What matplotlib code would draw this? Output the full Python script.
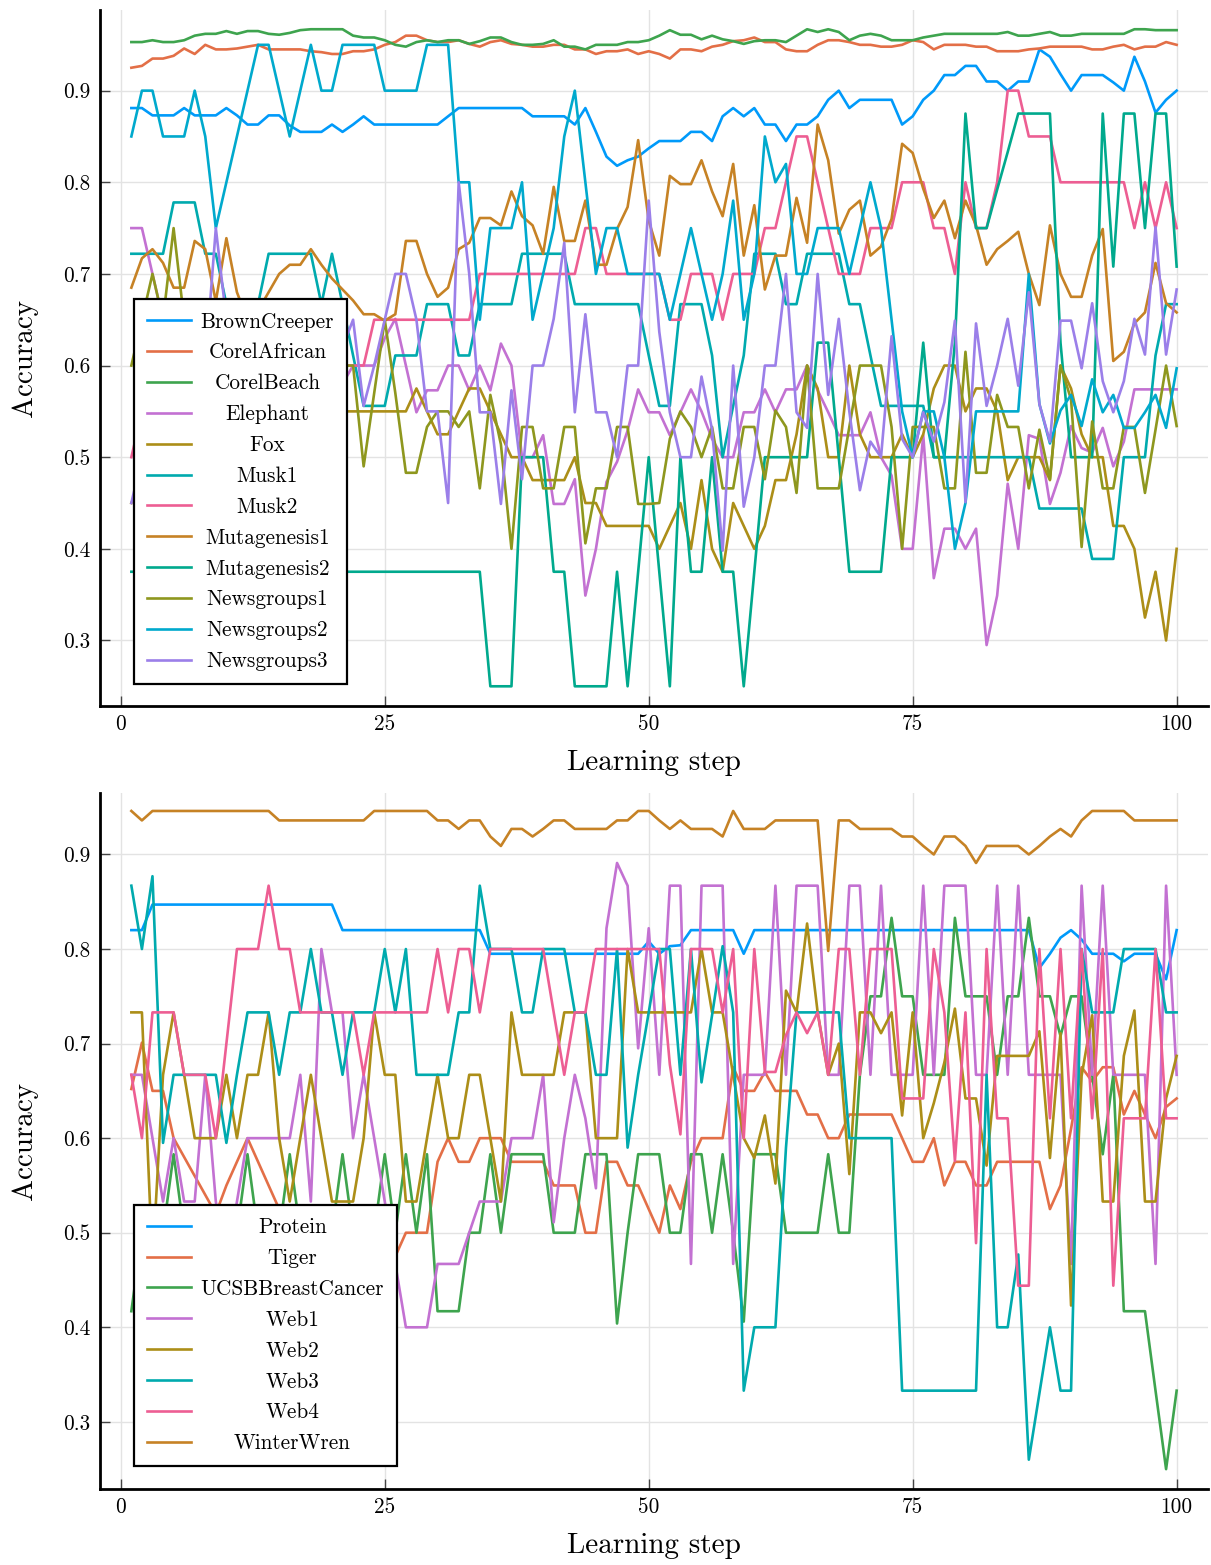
import matplotlib
matplotlib.use('Agg')
import matplotlib.pyplot as plt

plt.rcParams['font.family'] = ['cmr10', 'DejaVu Serif']
plt.rcParams['axes.formatter.use_mathtext'] = True
plt.rcParams['axes.unicode_minus'] = False

steps = list(range(1, 101))
x_ticks = [0, 25, 50, 75, 100]
y_ticks = [0.3, 0.4, 0.5, 0.6, 0.7, 0.8, 0.9]
y_tick_labels = ['0.3', '0.4', '0.5', '0.6', '0.7', '0.8', '0.9']
palette = ['#009AFA', '#E36F47', '#3EA44E', '#C371D2', '#AC8E18', '#00AAAE',
           '#ED5E93', '#C68225', '#00A98D', '#8E971E', '#00A9CD', '#9B7FE9']

# ---------------- top panel data ----------------
brown_creeper = [0.881,0.881,0.873,0.873,0.873,0.881,0.873,0.873,0.873,0.881,0.873,0.863,0.863,0.873,0.873,
                 0.862,0.855,0.855,0.855,0.863,0.855,0.863,0.872,0.863,0.863,0.863,0.863,0.863,0.863,0.863,0.872,0.881,0.881,
                 0.881,0.881,0.881,0.881,0.881,0.872,0.872,0.872,0.872,0.863,0.881,0.855,0.828,0.818,0.824,0.828,0.837,
                 0.845,0.845,0.845,0.855,0.855,0.845,0.872,0.881,0.872,0.881,0.863,0.863,0.845,0.863,0.863,0.872,0.890,0.900,
                 0.881,0.890,0.890,0.890,0.890,0.863,0.872,0.890,0.900,0.917,0.917,0.927,0.927,0.910,0.910,0.900,0.910,0.910,
                 0.945,0.937,0.918,0.900,0.917,0.917,0.917,0.909,0.900,0.937,0.910,0.876,0.890,0.900]
corel_african = [0.925,0.927,0.935,0.935,0.938,0.946,0.940,0.950,0.945,0.945,0.946,0.948,0.950,0.945,0.945,
                 0.945,0.945,0.943,0.942,0.940,0.940,0.943,0.943,0.945,0.950,0.953,0.960,0.960,0.955,0.953,0.953,0.955,0.951,
                 0.948,0.953,0.955,0.951,0.950,0.948,0.948,0.950,0.950,0.945,0.945,0.940,0.943,0.943,0.945,0.940,0.943,
                 0.940,0.935,0.945,0.945,0.943,0.948,0.950,0.954,0.955,0.958,0.953,0.953,0.945,0.943,0.943,0.950,0.955,0.955,
                 0.953,0.950,0.950,0.948,0.948,0.950,0.955,0.953,0.945,0.950,0.950,0.950,0.948,0.948,0.943,0.943,0.943,0.945,
                 0.946,0.948,0.948,0.948,0.948,0.945,0.945,0.948,0.950,0.945,0.948,0.948,0.953,0.950]
corel_beach = [0.953,0.953,0.955,0.953,0.953,0.955,0.960,0.962,0.962,0.965,0.962,0.965,0.965,0.962,0.961,
               0.963,0.966,0.967,0.967,0.967,0.967,0.960,0.958,0.958,0.955,0.950,0.948,0.953,0.955,0.953,0.955,0.955,0.951,
               0.954,0.958,0.958,0.953,0.950,0.950,0.951,0.955,0.948,0.948,0.945,0.950,0.950,0.950,0.953,0.953,0.955,
               0.960,0.966,0.961,0.961,0.956,0.960,0.956,0.954,0.951,0.954,0.955,0.955,0.953,0.960,0.967,0.964,0.967,0.964,
               0.955,0.960,0.962,0.960,0.955,0.955,0.955,0.958,0.960,0.962,0.962,0.962,0.962,0.962,0.962,0.964,0.960,0.960,
               0.962,0.964,0.960,0.960,0.962,0.962,0.962,0.962,0.962,0.967,0.967,0.966,0.966,0.966]
elephant = [0.75,0.75,0.70,0.65,0.62,0.60,0.60,0.65,0.62,0.60,0.55,0.60,0.58,0.60,0.62,0.60,0.58,0.60,0.62,0.60,0.58,
            0.600,0.600,0.600,0.630,0.651,0.600,0.549,0.573,0.573,0.600,0.600,0.573,
            0.600,0.573,0.624,0.600,0.500,0.500,0.524,0.449,0.449,0.476,0.349,0.400,0.473,0.495,0.529,0.574,0.549,
            0.549,0.524,0.549,0.574,0.550,0.520,0.500,0.500,0.549,0.549,0.574,0.549,0.574,0.574,0.600,0.573,0.549,0.524,
            0.524,0.524,0.549,0.500,0.480,0.400,0.400,0.524,0.368,0.422,0.422,0.400,0.422,0.295,0.349,0.471,0.400,0.524,
            0.520,0.449,0.483,0.534,0.510,0.505,0.532,0.490,0.517,0.574,0.574,0.574,0.574,0.574]
fox = [0.45,0.475,0.5,0.525,0.5,0.525,0.55,0.525,0.55,0.575,0.55,0.525,0.55,0.525,0.55,0.55,0.55,0.55,
       0.55,0.55,0.55,0.55,0.55,0.55,0.55,0.55,0.55,0.575,0.55,0.525,0.525,0.55,0.575,
       0.575,0.55,0.525,0.5,0.5,0.475,0.475,0.475,0.475,0.5,0.45,0.45,0.425,0.425,0.425,0.425,0.425,
       0.4,0.425,0.45,0.4,0.475,0.4,0.375,0.45,0.425,0.4,0.425,0.475,0.475,0.525,0.6,0.575,0.5,0.5,
       0.6,0.525,0.5,0.5,0.5,0.525,0.5,0.525,0.575,0.6,0.6,0.55,0.575,0.575,0.55,0.475,0.5,0.5,
       0.5,0.475,0.6,0.575,0.525,0.5,0.5,0.425,0.425,0.4,0.325,0.375,0.3,0.4]
musk1 = [0.722,0.722,0.722,0.722,0.778,0.778,0.778,0.722,0.722,0.667,0.611,0.611,0.667,0.722,0.722,
         0.722,0.722,0.722,0.667,0.722,0.667,0.611,0.556,0.556,0.556,0.611,0.611,0.611,0.667,0.667,0.667,0.611,0.611,
         0.667,0.667,0.667,0.667,0.722,0.722,0.722,0.722,0.722,0.667,0.667,0.667,0.667,0.667,0.667,0.667,0.611,
         0.556,0.556,0.667,0.667,0.667,0.611,0.500,0.556,0.611,0.722,0.722,0.722,0.667,0.667,0.722,0.722,0.722,0.722,
         0.667,0.667,0.611,0.556,0.556,0.556,0.556,0.556,0.500,0.500,0.500,0.500,0.500,0.500,0.500,0.500,0.500,0.500,
         0.444,0.444,0.444,0.444,0.444,0.389,0.389,0.389,0.500,0.500,0.500,0.611,0.667,0.667]
musk2 = [0.5,0.55,0.6,0.55,0.6,0.6,0.6,0.55,0.6,0.65,0.6,0.65,0.6,0.6,0.6,0.65,0.65,0.6,0.65,0.6,0.6,
         0.6,0.6,0.65,0.65,0.65,0.65,0.65,0.65,0.65,0.65,0.65,0.65,
         0.7,0.7,0.7,0.7,0.7,0.7,0.7,0.7,0.7,0.7,0.75,0.75,0.7,0.7,0.7,0.7,0.7,
         0.7,0.65,0.65,0.7,0.7,0.7,0.65,0.7,0.7,0.7,0.75,0.75,0.8,0.85,0.85,0.8,0.75,0.7,
         0.7,0.7,0.75,0.75,0.75,0.8,0.8,0.8,0.75,0.75,0.7,0.8,0.75,0.75,0.8,0.9,0.9,0.85,
         0.85,0.85,0.8,0.8,0.8,0.8,0.8,0.8,0.8,0.75,0.8,0.75,0.8,0.75]
mutagenesis1 = [0.685,0.717,0.727,0.712,0.685,0.685,0.736,0.727,0.670,0.739,0.680,0.650,0.660,0.680,0.700,
                0.710,0.710,0.727,0.710,0.695,0.683,0.671,0.656,0.656,0.649,0.656,0.736,0.736,0.700,0.675,0.685,0.727,0.734,
                0.761,0.761,0.753,0.790,0.763,0.753,0.722,0.795,0.736,0.736,0.780,0.710,0.710,0.749,0.773,0.846,0.758,
                0.720,0.807,0.798,0.798,0.824,0.790,0.763,0.820,0.720,0.775,0.683,0.720,0.720,0.783,0.734,0.863,0.824,0.744,
                0.770,0.780,0.720,0.730,0.760,0.842,0.832,0.793,0.761,0.780,0.739,0.780,0.753,0.710,0.727,0.736,0.746,0.700,
                0.666,0.753,0.700,0.675,0.675,0.720,0.749,0.605,0.615,0.646,0.658,0.712,0.668,0.658]
mutagenesis2 = [0.375,0.375,0.375,0.375,0.375,0.375,0.375,0.375,0.375,0.375,0.375,0.375,0.375,0.375,0.375,0.375,0.375,
                0.375,0.375,0.375,0.375,0.375,0.375,0.375,0.375,0.375,0.375,0.375,0.375,0.375,0.375,0.375,0.375,0.375,
                0.25,0.25,0.25,0.5,0.5,0.5,0.375,0.375,0.25,0.25,0.25,0.25,0.375,0.25,0.375,0.5,
                0.375,0.25,0.5,0.375,0.375,0.5,0.375,0.375,0.25,0.375,0.5,0.5,0.5,0.5,0.5,0.625,0.625,0.5,
                0.375,0.375,0.375,0.375,0.5,0.5,0.5,0.625,0.5,0.5,0.625,0.875,0.75,0.75,0.792,0.833,0.875,0.875,
                0.875,0.875,0.625,0.5,0.5,0.5,0.875,0.708,0.875,0.875,0.75,0.875,0.875,0.708]
newsgroups1 = [0.6,0.65,0.7,0.65,0.75,0.65,0.6,
               0.55,0.6,0.55,0.6,0.65,0.55,0.6,0.55,0.6,0.55,0.6,0.55,0.55,0.6,
               0.6,0.49,0.57,0.65,0.57,0.483,0.483,0.533,0.55,0.55,0.533,0.55,
               0.466,0.568,0.514,0.4,0.533,0.533,0.466,0.466,0.533,0.533,0.406,0.466,0.466,0.533,0.533,0.449,0.449,
               0.45,0.52,0.55,0.533,0.5,0.533,0.466,0.466,0.533,0.533,0.476,0.551,0.533,0.461,0.6,0.466,0.466,0.466,
               0.533,0.6,0.6,0.6,0.533,0.4,0.533,0.533,0.533,0.466,0.466,0.615,0.483,0.483,0.568,0.533,0.533,0.466,
               0.53,0.476,0.6,0.563,0.402,0.539,0.466,0.466,0.533,0.533,0.461,0.53,0.6,0.534]
newsgroups2 = [0.85,0.9,0.9,0.85,0.85,0.85,0.9,0.85,0.75,0.8,0.85,0.9,0.95,0.95,0.9,0.85,0.9,0.95,0.9,0.9,0.95,
               0.95,0.95,0.95,0.9,0.9,0.9,0.9,0.95,0.95,0.95,0.8,0.8,
               0.65,0.75,0.75,0.75,0.8,0.65,0.7,0.75,0.85,0.9,0.8,0.7,0.75,0.75,0.7,0.7,0.7,
               0.7,0.65,0.7,0.75,0.7,0.65,0.7,0.78,0.65,0.7,0.85,0.8,0.82,0.7,0.7,0.75,0.75,0.75,
               0.7,0.75,0.8,0.75,0.65,0.55,0.5,0.55,0.55,0.5,0.4,0.45,0.55,0.55,0.55,0.55,0.55,0.7,
               0.558,0.515,0.551,0.568,0.534,0.585,0.549,0.568,0.532,0.532,0.549,0.568,0.532,0.597]
newsgroups3 = [0.45,0.5,0.55,0.6,0.55,0.6,0.65,0.6,0.75,0.65,0.6,0.55,0.6,0.65,0.6,0.55,0.6,0.65,0.6,
               0.65,0.62,0.65,0.556,0.6,0.65,0.7,0.7,0.65,0.55,0.55,0.45,0.8,0.7,
               0.549,0.549,0.449,0.573,0.476,0.6,0.6,0.651,0.734,0.549,0.656,0.549,0.549,0.5,0.6,0.6,0.78,
               0.637,0.549,0.5,0.5,0.588,0.53,0.398,0.6,0.446,0.5,0.6,0.6,0.7,0.549,0.532,0.7,0.568,0.651,
               0.55,0.464,0.517,0.5,0.632,0.52,0.5,0.549,0.517,0.56,0.649,0.451,0.646,0.556,0.6,0.651,0.578,0.68,
               0.558,0.517,0.649,0.649,0.597,0.668,0.583,0.549,0.583,0.651,0.612,0.751,0.612,0.683]

top_names = ['BrownCreeper', 'CorelAfrican', 'CorelBeach', 'Elephant', 'Fox', 'Musk1', 'Musk2',
             'Mutagenesis1', 'Mutagenesis2', 'Newsgroups1', 'Newsgroups2', 'Newsgroups3']
top_series = [brown_creeper, corel_african, corel_beach, elephant, fox, musk1, musk2,
              mutagenesis1, mutagenesis2, newsgroups1, newsgroups2, newsgroups3]

# ---------------- bottom panel data ----------------
protein = [0.82,0.82,0.847,0.847,0.847,0.847,0.847,0.847,0.847,0.847,0.847,0.847,0.847,0.847,0.847,0.847,0.847,0.847,0.847,0.847,
           0.82,0.82,0.82,0.82,0.82,0.82,0.82,0.82,0.82,0.82,0.82,0.82,0.82,0.82,
           0.795,0.795,0.795,0.795,0.795,0.795,0.795,0.795,0.795,0.795,0.795,0.795,0.795,0.795,0.795,0.808,
           0.795,0.803,0.804,0.82,0.82,0.82,0.82,0.82,0.795,
           0.82,0.82,0.82,0.82,0.82,0.82,0.82,0.82,0.82,0.82,0.82,0.82,0.82,0.82,0.82,0.82,0.82,0.82,0.82,0.82,
           0.82,0.82,0.82,0.82,0.82,0.82,0.82,
           0.78,0.795,0.812,0.82,0.81,0.795,0.795,0.795,0.787,0.795,0.795,0.795,0.768,0.82]
tiger = [0.652,0.701,0.65,0.65,0.6,0.58,0.56,0.54,0.52,0.55,0.575,0.6,0.575,0.55,0.525,
         0.5,0.475,0.45,0.475,0.5,0.475,0.45,0.475,0.45,0.475,0.475,
         0.5,0.5,0.5,0.575,0.6,0.575,0.575,
         0.6,0.6,0.6,0.575,0.575,0.575,0.575,0.55,0.55,0.55,0.5,0.5,0.575,0.575,0.55,0.55,0.525,
         0.5,0.55,0.525,0.575,0.6,0.6,0.6,0.675,0.65,0.65,0.67,0.65,0.65,0.65,0.625,0.625,0.6,0.6,
         0.625,0.625,0.625,0.625,0.625,0.6,0.575,0.575,0.6,0.55,0.575,0.575,0.55,0.55,0.575,0.575,0.575,0.575,
         0.575,0.525,0.55,0.61,0.675,0.66,0.675,0.675,0.625,0.65,0.625,0.6,0.633,0.642]
ucsb_breast_cancer = [0.417,0.5,0.417,0.5,0.583,0.5,0.417,0.5,0.5,0.417,0.5,0.583,0.5,0.417,0.5,0.583,0.5,0.417,0.5,0.5,0.583,0.5,0.417,0.5,0.583,
                      0.5,0.583,0.5,0.583,0.417,0.417,0.417,0.5,
                      0.5,0.583,0.5,0.583,0.583,0.583,0.583,0.5,0.5,0.5,0.583,0.583,0.583,0.404,0.5,0.583,0.583,
                      0.583,0.5,0.5,0.583,0.583,0.5,0.583,0.5,0.406,0.583,0.583,0.583,0.5,0.5,0.5,0.5,0.583,0.5,
                      0.5,0.667,0.75,0.75,0.833,0.75,0.75,0.667,0.667,0.667,0.833,0.75,0.75,0.75,0.667,0.75,0.75,0.833,
                      0.75,0.75,0.708,0.75,0.75,0.667,0.583,0.667,0.417,0.417,0.417,0.333,0.25,0.333]
web1 = [0.667,0.667,0.6,0.533,0.6,0.533,0.533,0.667,0.533,0.467,0.533,0.6,0.6,0.6,0.6,
        0.6,0.667,0.533,0.8,0.733,0.733,0.6,0.667,0.6,0.533,0.467,0.4,0.4,0.4,0.467,0.467,0.467,0.5,
        0.533,0.533,0.533,0.6,0.6,0.6,0.667,0.511,0.6,0.667,0.621,0.547,0.822,0.891,0.867,0.695,0.822,
        0.667,0.867,0.867,0.467,0.867,0.867,0.867,0.467,0.667,0.667,0.667,0.867,0.667,0.867,0.867,0.867,0.667,0.667,
        0.867,0.867,0.667,0.867,0.667,0.667,0.667,0.867,0.667,0.867,0.867,0.867,0.667,0.667,0.867,0.667,0.867,0.667,
        0.667,0.667,0.667,0.467,0.867,0.667,0.867,0.667,0.667,0.667,0.667,0.467,0.867,0.667]
web2 = [0.733,0.733,0.467,0.667,0.733,0.667,0.6,0.6,0.6,0.667,0.6,0.667,0.667,0.733,0.6,
        0.533,0.6,0.667,0.6,0.533,0.533,0.533,0.6,0.733,0.667,0.667,0.533,0.533,0.6,0.667,0.6,0.6,0.667,
        0.667,0.6,0.533,0.733,0.667,0.667,0.667,0.667,0.733,0.733,0.733,0.6,0.6,0.6,0.8,0.733,0.733,
        0.733,0.733,0.733,0.733,0.8,0.733,0.733,0.667,0.6,0.579,0.624,0.552,0.756,0.733,0.827,0.733,0.667,0.7,
        0.562,0.733,0.733,0.711,0.733,0.624,0.733,0.6,0.637,0.68,0.737,0.642,0.642,0.571,0.687,0.687,0.687,0.687,
        0.713,0.579,0.711,0.423,0.666,0.73,0.533,0.533,0.687,0.735,0.533,0.533,0.642,0.687]
web3 = [0.867,0.8,0.877,0.595,0.667,0.667,0.667,0.667,0.667,0.595,0.667,0.733,0.733,0.733,0.667,
        0.733,0.733,0.8,0.733,0.733,0.667,0.733,0.733,0.733,0.8,0.733,0.8,0.667,0.667,0.667,0.667,0.733,0.733,
        0.867,0.8,0.8,0.8,0.733,0.733,0.8,0.8,0.8,0.733,0.733,0.667,0.667,0.8,0.59,0.667,0.733,
        0.8,0.8,0.667,0.8,0.659,0.73,0.803,0.733,0.333,0.4,0.4,0.4,0.59,0.733,0.733,0.733,0.733,0.733,
        0.6,0.6,0.6,0.6,0.6,0.333,0.333,0.333,0.333,0.333,0.333,0.333,0.333,0.667,0.4,0.4,0.477,0.26,
        0.33,0.4,0.333,0.333,0.8,0.733,0.733,0.733,0.8,0.8,0.8,0.8,0.733,0.733]
web4 = [0.667,0.6,0.733,0.733,0.733,0.667,0.667,0.667,0.6,0.7,0.8,0.8,0.8,0.867,0.8,
        0.8,0.733,0.733,0.733,0.733,0.733,0.733,0.667,0.733,0.733,0.733,0.733,0.733,0.733,0.8,0.733,0.8,0.8,
        0.733,0.8,0.8,0.8,0.8,0.8,0.8,0.733,0.667,0.733,0.733,0.8,0.8,0.8,0.8,0.8,0.8,
        0.8,0.678,0.604,0.8,0.8,0.8,0.733,0.8,0.6,0.8,0.67,0.67,0.709,0.733,0.711,0.733,0.667,0.8,
        0.8,0.667,0.8,0.8,0.8,0.642,0.642,0.642,0.8,0.733,0.576,0.733,0.489,0.8,0.621,0.621,0.444,0.444,
        0.8,0.621,0.8,0.621,0.8,0.621,0.8,0.444,0.621,0.621,0.621,0.8,0.621,0.621]
winter_wren = [0.946,0.936,0.946,0.946,0.946,0.946,0.946,0.946,0.946,0.946,0.946,0.946,0.946,0.946,0.936,
               0.936,0.936,0.936,0.936,0.936,0.936,0.936,0.936,0.946,0.946,0.946,0.946,0.946,0.946,0.936,0.936,0.927,0.936,
               0.936,0.919,0.909,0.927,0.927,0.919,0.927,0.936,0.936,0.927,0.927,0.927,0.927,0.936,0.936,0.946,0.946,
               0.936,0.927,0.936,0.927,0.927,0.927,0.919,0.946,0.927,0.927,0.927,0.936,0.936,0.936,0.936,0.936,0.798,0.936,
               0.936,0.927,0.927,0.927,0.927,0.919,0.919,0.909,0.9,0.919,0.919,0.909,0.891,0.909,0.909,0.909,0.909,0.9,
               0.909,0.919,0.927,0.919,0.936,0.946,0.946,0.946,0.946,0.936,0.936,0.936,0.936,0.936]

bottom_names = ['Protein', 'Tiger', 'UCSBBreastCancer', 'Web1', 'Web2', 'Web3', 'Web4', 'WinterWren']
bottom_series = [protein, tiger, ucsb_breast_cancer, web1, web2, web3, web4, winter_wren]

for nm, s in list(zip(top_names, top_series)) + list(zip(bottom_names, bottom_series)):
    assert len(s) == 100, (nm, len(s))

W, H = 1211, 1565
fig = plt.figure(figsize=(W / 100, H / 100), dpi=100)
ax_top = fig.add_axes([100 / W, 1 - 706 / H, 1108 / W, 696 / H])
ax_bot = fig.add_axes([100 / W, 1 - 1489 / H, 1108 / W, 696 / H])

LW = 1.9
FS_TICK = 15.3
FS_LAB = 21


def style(ax, ylim):
    ax.set_xlim(-1.97, 102.97)
    ax.set_ylim(*ylim)
    ax.set_xticks(x_ticks)
    ax.set_xticklabels([str(t) for t in x_ticks])
    ax.set_yticks(y_ticks)
    ax.set_yticklabels(y_tick_labels)
    ax.grid(True, color='#e3e3e3', linewidth=1.0)
    ax.set_axisbelow(True)
    for sp in ['top', 'right']:
        ax.spines[sp].set_visible(False)
    for sp in ['left', 'bottom']:
        ax.spines[sp].set_linewidth(2.0)
        ax.spines[sp].set_color('black')
    ax.tick_params(axis='both', direction='in', length=7, width=1.0, color='#444444',
                   labelsize=FS_TICK)
    ax.tick_params(axis='x', pad=6)
    ax.tick_params(axis='y', pad=7)
    ax.set_xlabel('Learning step', fontsize=FS_LAB)
    ax.set_ylabel('Accuracy', fontsize=FS_LAB)
    ax.xaxis.set_label_coords(0.5, -0.063)
    ax.yaxis.set_label_coords(-0.056, 0.5)


def add_legend(ax, anchor):
    leg = ax.legend(loc='lower left', bbox_to_anchor=anchor, borderaxespad=0,
                    fontsize=FS_TICK, handlelength=2.07, handletextpad=0.47,
                    borderpad=0.6, labelspacing=0.535, fancybox=False,
                    edgecolor='black', framealpha=1.0)
    leg.get_frame().set_linewidth(1.6)
    return leg


for i, (nm, s) in enumerate(zip(top_names, top_series)):
    ax_top.plot(steps, s, color=palette[i], lw=LW, label=nm)
for i, (nm, s) in enumerate(zip(bottom_names, bottom_series)):
    ax_bot.plot(steps, s, color=palette[i], lw=LW, label=nm)

style(ax_top, (0.2285, 0.988))
style(ax_bot, (0.229, 0.965))

leg_top = add_legend(ax_top, (0.0307, 0.0316))
leg_bot = add_legend(ax_bot, (0.0307, 0.033))

# centre the legend labels in their column (as in the reference)
fig.canvas.draw()
renderer = fig.canvas.get_renderer()
for leg in (leg_top, leg_bot):
    texts = leg.get_texts()
    widths = [t.get_window_extent(renderer).width for t in texts]
    mw = max(widths)
    for t, w in zip(texts, widths):
        t.set_position(((mw - w) / 2.0, 0))

fig.savefig('out.png', dpi=100)
